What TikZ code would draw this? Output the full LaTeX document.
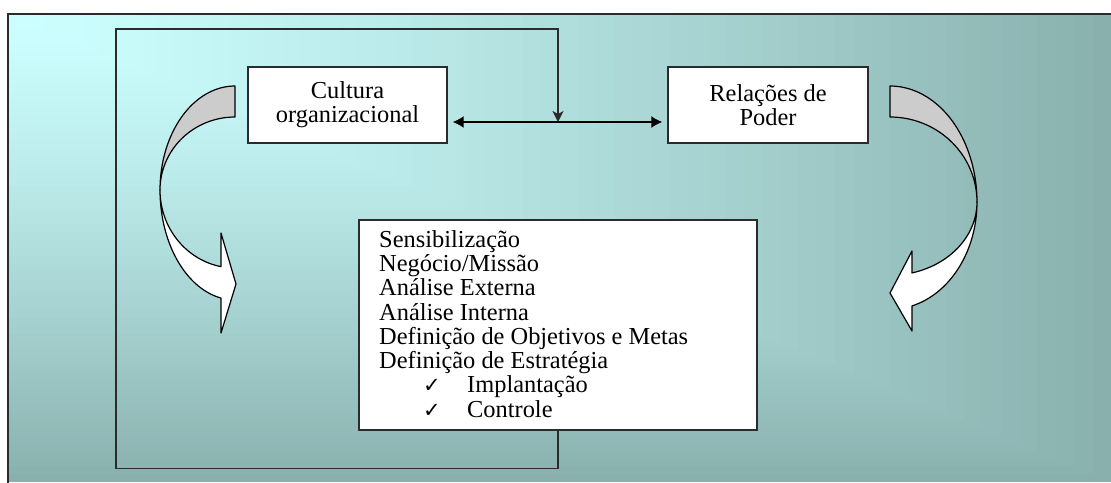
\documentclass[tikz,border=0pt]{standalone}
\usepackage{fontspec}
\setmainfont{Liberation Serif}
\newfontfamily\symfont{DejaVu Sans}
\usetikzlibrary{arrows.meta}
\definecolor{bgA}{HTML}{CCFFFF}
\definecolor{bgB}{HTML}{89B0AD}
\definecolor{lineC}{HTML}{2B2B2B}
\definecolor{ribbonG}{HTML}{CCCCCC}
\begin{document}
\begin{tikzpicture}[x=1pt,y=-1pt,
  box/.style={draw=lineC, line width=1.4pt, fill=white, inner sep=0pt, align=center,
              font=\fontsize{24.4}{24}\selectfont},
  frameline/.style={draw=lineC, line width=1.4pt},
  ribbon/.style={draw=black, line width=1.2pt, line join=round},
  listtext/.style={anchor=north west, align=left, inner sep=0pt,
              font=\fontsize{24.4}{24.3}\selectfont}]
\clip (0,0) rectangle (1111,482);
\useasboundingbox (0,0) rectangle (1111,482);
\fill[white] (0,0) rectangle (1111,482);
% background: gradient from the top-left corner
\foreach \k in {60,59,...,1}{
  \pgfmathsetmacro\p{100*(\k/60)^1.3}
  \pgfmathsetmacro\wx{8+18.3833*\k}
  \pgfmathsetmacro\hy{14+7.8*\k}
  \fill[bgB!\p!bgA] (8,14) rectangle (\wx,\hy);
}
\draw[lineC, line width=1.6pt] (8,495) -- (8,14) -- (1120,14);

% boxes
\node[box, minimum width=199pt, minimum height=76pt] (cult) at (347.5,105) {Cultura\\organizacional};
\node[box, minimum width=200pt, minimum height=76pt] (rel) at (768,105) {Relações de\\Poder};
\node[box, minimum width=398pt, minimum height=210pt] (main) at (558,325) {};
\node[listtext] (steps) at (379,230) {Sensibilização\\
Negócio/Missão\\
Análise Externa\\
Análise Interna\\
Definição de Objetivos e Metas\\
Definição de Estratégia\\
\hspace*{44pt}\makebox[44pt][l]{\symfont\fontsize{21}{21}\selectfont ✓}Implantação\\
\hspace*{44pt}\makebox[44pt][l]{\symfont\fontsize{21}{21}\selectfont ✓}Controle};

% connectors
\coordinate (mid) at (558,122);
\draw[line width=1.4pt, {Latex[length=11pt,width=12pt]}-{Latex[length=11pt,width=12pt]},
      shorten <=5pt, shorten >=5pt] (cult.east |- mid) -- (rel.west |- mid);
\draw[frameline, -{Stealth[length=11pt,width=11pt,inset=3pt]}]
  (main.south) -- ++(0,38) -| (116,29) -| (mid);

% left curved arrow
\filldraw[ribbon, fill=ribbonG]
  plot[domain=180:270, samples=40, variable=\t] ({235+75*cos(\t)},{190+104*sin(\t)})
  -- plot[domain=270:180, samples=40, variable=\t] ({235+75*cos(\t)},{190+73*sin(\t)}) -- cycle;
\filldraw[ribbon, fill=white]
  plot[domain=180:100.8, samples=40, variable=\t] ({235+75*cos(\t)},{190+110*sin(\t)})
  -- (221,333) -- (236,284) -- (221,233)
  -- plot[domain=100.8:180, samples=40, variable=\t] ({235+75*cos(\t)},{190+78*sin(\t)}) -- cycle;

% right curved arrow
\filldraw[ribbon, fill=ribbonG]
  plot[domain=270:360, samples=40, variable=\t] ({890+87*cos(\t)},{202+116*sin(\t)})
  -- plot[domain=360:270, samples=40, variable=\t] ({890+87*cos(\t)},{202+85*sin(\t)}) -- cycle;
\filldraw[ribbon, fill=white]
  plot[domain=0:75.4, samples=40, variable=\t] ({890+87*cos(\t)},{202+107.4*sin(\t)})
  -- (912,331) -- (890,293) -- (912,251)
  -- plot[domain=75.4:0, samples=40, variable=\t] ({890+87*cos(\t)},{202+73.3*sin(\t)}) -- cycle;
\end{tikzpicture}
\end{document}
